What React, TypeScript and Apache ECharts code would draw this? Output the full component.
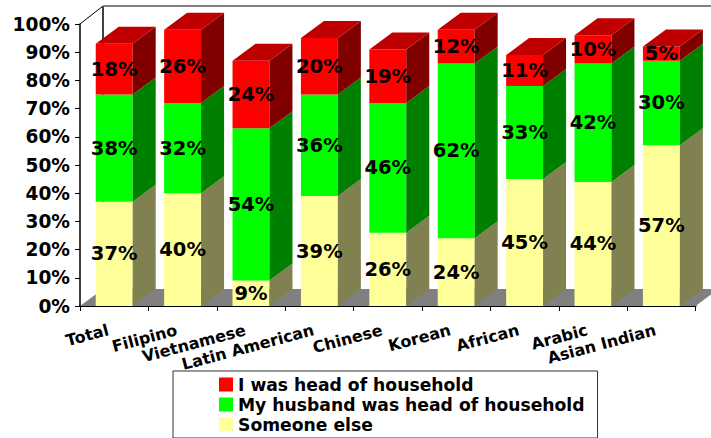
import React, { useEffect, useRef } from "react";
import * as echarts from "echarts";

const categories = ["Total", "Filipino", "Vietnamese", "Latin American", "Chinese", "Korean", "African", "Arabic", "Asian Indian"];
const someoneElse = [37, 40, 9, 39, 26, 24, 45, 44, 57];
const husbandHead = [38, 32, 54, 36, 46, 62, 33, 42, 30];
const selfHead = [18, 26, 24, 20, 19, 12, 11, 10, 5];
const yTicks = [0, 100];
const seriesNames = ["Someone else", "My husband was head of household", "I was head of household"];
const FONT = "'DejaVu Sans', Verdana, sans-serif";
const DX = 23;
const DY = 17;

function stackSeries(name: string, values: number[], bases: number[], front: string, side: string, top: boolean) {
  return {
    type: "custom",
    name,
    z: 3,
    itemStyle: { color: front },
    encode: { x: 0, y: 2 },
    clip: false,
    data: values.map((v, i) => [i, bases[i], bases[i] + v, v]),
    renderItem: (_p: any, api: any) => {
      const i = api.value(0);
      const b = api.coord([i, api.value(1)]);
      const t = api.coord([i, api.value(2)]);
      const w = api.size([1, 0])[0] * 0.54;
      const x0 = b[0] - w / 2;
      const x1 = b[0] + w / 2;
      const children: any[] = [
        { type: "rect", shape: { x: x0, y: t[1], width: w, height: b[1] - t[1] }, style: { fill: front } },
        { type: "polygon", shape: { points: [[x1, b[1]], [x1 + DX, b[1] - DY], [x1 + DX, t[1] - DY], [x1, t[1]]] }, style: { fill: side } },
      ];
      if (top) {
        children.push({ type: "polygon", shape: { points: [[x0, t[1]], [x0 + DX, t[1] - DY], [x1 + DX, t[1] - DY], [x1, t[1]]] }, style: { fill: "#c00000" } });
      }
      children.push({
        type: "text",
        z2: 20,
        style: {
          x: b[0],
          y: (b[1] + t[1]) / 2,
          text: api.value(3) + "%",
          align: "center",
          verticalAlign: "middle",
          fill: "#000",
          font: `bold 19.5px ${FONT}`,
        },
      });
      return { type: "group", children };
    },
  };
}

function wallSeries() {
  return {
    type: "custom",
    name: "wall",
    z: 1,
    silent: true,
    clip: false,
    encode: { x: 0, y: 1 },
    data: [[0, 0]],
    renderItem: (p: any, api: any) => {
      const o = api.coord([0, 0]);
      const h = api.coord([0, 100])[1];
      const left = p.coordSys.x;
      const right = left + p.coordSys.width;
      const floor = o[1];
      return {
        type: "group",
        children: [
          { type: "polygon", shape: { points: [[left, floor], [left + DX, floor - DY], [right + DX, floor - DY], [right, floor]] }, style: { fill: "#808080" } },
          { type: "line", shape: { x1: left + DX, y1: h - DY - 1, x2: left + DX, y2: floor - DY }, style: { stroke: "#000", lineWidth: 1.5 } },
          { type: "line", shape: { x1: left, y1: h, x2: left + DX, y2: h - DY - 1 }, style: { stroke: "#000", lineWidth: 1 } },
          { type: "line", shape: { x1: left + DX, y1: h - DY - 1, x2: right + DX, y2: h - DY - 1 }, style: { stroke: "#808080", lineWidth: 2 } },
        ],
      };
    },
  };
}

export default function App() {
  const ref = useRef<HTMLDivElement>(null);
  useEffect(() => {
    const chart = echarts.init(ref.current!, null, { renderer: "svg" });
    const b1 = someoneElse;
    const b2 = someoneElse.map((v, i) => v + husbandHead[i]);
    chart.setOption({
      animation: false,
      backgroundColor: "#fff",
      grid: { left: 80, right: 15.4, top: 24, bottom: 132, containLabel: false },
      xAxis: {
        type: "category",
        data: categories,
        boundaryGap: true,
        axisLine: { show: true, lineStyle: { color: "#000", width: 2 } },
        axisTick: { show: true, alignWithLabel: false, length: 5, lineStyle: { color: "#000" } },
        axisLabel: { interval: 0, rotate: 15, margin: 22, padding: [0, 6, 0, 0], color: "#000", fontFamily: FONT, fontWeight: "bold", fontSize: 16 },
      },
      yAxis: {
        type: "value",
        min: yTicks[0],
        max: yTicks[1],
        interval: 10,
        splitLine: { show: false },
        axisLine: { show: true, lineStyle: { color: "#000", width: 1.5 } },
        axisTick: { show: true, length: 5, lineStyle: { color: "#000" } },
        axisLabel: { color: "#000", margin: 10, fontFamily: FONT, fontWeight: "bold", fontSize: 18.6, formatter: "{value}%" },
      },
      legend: {
        show: true,
        orient: "vertical",
        left: 173,
        top: 371,
        height: 100,
        data: [seriesNames[2], seriesNames[1], seriesNames[0]],
        icon: "rect",
        itemWidth: 14,
        itemHeight: 14,
        itemGap: 3,
        padding: [5, 13, 5, 46],
        borderColor: "#333",
        borderWidth: 1,
        textStyle: { color: "#000", fontFamily: FONT, fontWeight: "bold", fontSize: 17.2 },
      },
      series: [
        wallSeries(),
        stackSeries(seriesNames[0], someoneElse, someoneElse.map(() => 0), "#ffff99", "#808050", false),
        stackSeries(seriesNames[1], husbandHead, b1, "#00ff00", "#008000", false),
        stackSeries(seriesNames[2], selfHead, b2, "#ff0000", "#800000", true),
      ],
    });
    return () => chart.dispose();
  }, []);
  return <div ref={ref} style={{ width: 711, height: 438, position: "fixed", left: 0, top: 0 }} />;
}
